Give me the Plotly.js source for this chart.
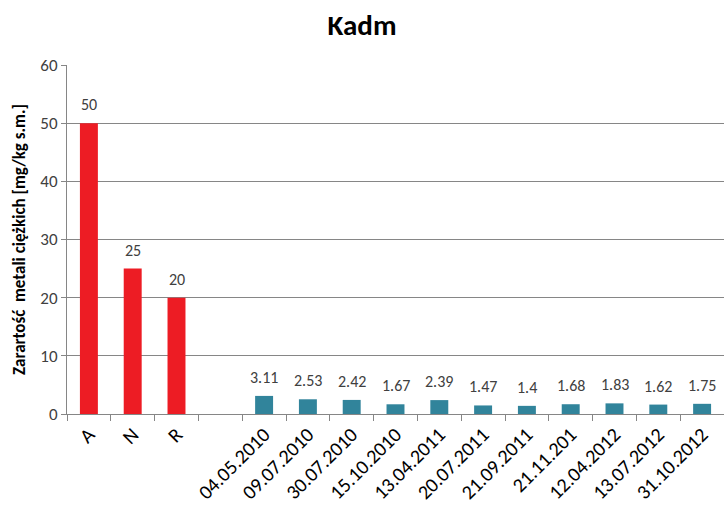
<!DOCTYPE html>
<html>
<head>
<meta charset="utf-8">
<script src="https://cdn.plot.ly/plotly-3.0.1.min.js"></script>
<style>html,body{margin:0;padding:0;background:#fff;}#chart{width:724px;height:506px;}</style>
</head>
<body>
<div id="chart"></div>
<script>
var categories = ["A", "N", "R", " ", "04.05.2010", "09.07.2010", "30.07.2010", "15.10.2010", "13.04.2011", "20.07.2011", "21.09.2011", "21.11.201", "12.04.2012", "13.07.2012", "31.10.2012"];
var values = [50, 25, 20, null, 3.11, 2.53, 2.42, 1.67, 2.39, 1.47, 1.4, 1.68, 1.83, 1.62, 1.75];
var labels = ["50", "25", "20", "", "3.11", "2.53", "2.42", "1.67", "2.39", "1.47", "1.4", "1.68", "1.83", "1.62", "1.75"];
var colors = ["#ED1C24", "#ED1C24", "#ED1C24", "#31849B", "#31849B", "#31849B", "#31849B", "#31849B", "#31849B", "#31849B", "#31849B", "#31849B", "#31849B", "#31849B", "#31849B"];
var yTicks = [0, 10, 20, 30, 40, 50, 60];

var font = "Carlito, 'Open Sans', 'Liberation Sans', sans-serif";

var annotations = [];
for (var i = 0; i < categories.length; i++) {
  if (values[i] === null) continue;
  annotations.push({
    x: categories[i], y: values[i], xref: "x", yref: "y",
    text: labels[i], showarrow: false,
    xanchor: "center", yanchor: "bottom", yshift: 7,
    font: {family: font, size: 16, color: "#404040"}
  });
}

Plotly.newPlot("chart", [{
  type: "bar",
  x: categories,
  y: values,
  marker: {color: colors, line: {width: 0}},
  hoverinfo: "x+y"
}], {
  width: 724,
  height: 506,
  margin: {l: 67, r: 0, t: 65, b: 92},
  paper_bgcolor: "#fff",
  plot_bgcolor: "#fff",
  bargap: 0.59,
  showlegend: false,
  annotations: annotations,
  title: {text: "<b>Kadm</b>", x: 0.5, xanchor: "center", y: 0.95, yanchor: "middle", font: {family: font, size: 29, color: "#000"}},
  xaxis: {
    type: "category",
    tickangle: -45,
    ticks: "outside",
    tickson: "boundaries",
    ticklen: 6,
    tickcolor: "#868686",
    showline: true,
    linecolor: "#868686",
    linewidth: 1,
    showgrid: false,
    tickfont: {family: font, size: 20, color: "#000"},
    fixedrange: true
  },
  yaxis: {
    range: [0, 60],
    tickvals: yTicks,
    ticks: "outside",
    ticklen: 5,
    tickcolor: "#868686",
    showline: true,
    linecolor: "#868686",
    showgrid: true,
    gridcolor: "#868686",
    gridwidth: 1,
    zeroline: false,
    tickfont: {family: font, size: 17, color: "#404040"},
    title: {text: "<b>Zarartość  metali ciężkich [mg/kg s.m.]</b>", font: {family: font, size: 17, color: "#000"}, standoff: 10},
    fixedrange: true
  }
}, {displayModeBar: false, staticPlot: true});
</script>
</body>
</html>
